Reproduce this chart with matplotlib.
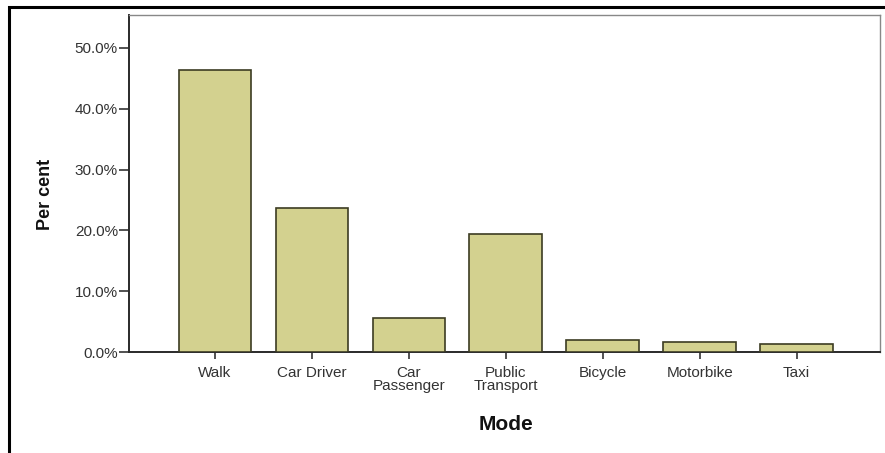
import matplotlib
matplotlib.use("Agg")
import matplotlib.pyplot as plt
from matplotlib.patches import Rectangle
from matplotlib.ticker import FuncFormatter

modes = ["Walk", "Car Driver", "Car\nPassenger", "Public\nTransport", "Bicycle", "Motorbike", "Taxi"]
percent = [46.4, 23.7, 5.6, 19.4, 2.0, 1.6, 1.3]
yticks = [0, 10, 20, 30, 40, 50]

plt.rcParams['font.family'] = ['Liberation Sans', 'DejaVu Sans']

W, H = 885, 453
fig = plt.figure(figsize=(W / 100, H / 100), dpi=100)
fig.patch.set_facecolor("white")

# outer frame (only left and top visible)
frame = Rectangle((9 / W, -0.2), 1.2, 1 - 7 / H + 0.2, transform=fig.transFigure,
                  fill=False, edgecolor="black", linewidth=2.2, clip_on=False)
fig.add_artist(frame)

ax = fig.add_axes([129 / W, 1 - 352 / H, (880 - 129) / W, (352 - 15) / H])
x = list(range(len(modes)))
ax.bar(x, percent, width=0.75, color="#d3d18f", edgecolor="#3c3c22", linewidth=1.2, zorder=3)

ax.set_xlim(-0.887, 6.86)
ax.set_ylim(0, 55.4)
ax.set_yticks(yticks)
ax.yaxis.set_major_formatter(FuncFormatter(lambda v, p: f"{v:.1f}%"))
ax.set_xticks(x)
ax.set_xticklabels(modes, linespacing=0.95)

ax.tick_params(axis="y", direction="out", length=7, width=1.2, pad=1,
               labelsize=11, labelcolor="#333333", color="#333333")
ax.tick_params(axis="x", direction="out", length=5, width=1.2, pad=5,
               labelsize=11, labelcolor="#333333", color="#333333")

for s in ["left", "bottom"]:
    ax.spines[s].set_color("#2a2a2a")
    ax.spines[s].set_linewidth(1.4)
for s in ["top", "right"]:
    ax.spines[s].set_color("#888888")
    ax.spines[s].set_linewidth(1.0)

fig.text(45 / W, 1 - 194 / H, "Per cent", rotation=90, ha="center", va="center",
         fontsize=13, fontweight="bold", color="#111111")
fig.text(506 / W, 1 - 424 / H, "Mode", ha="center", va="center",
         fontsize=15, fontweight="bold", color="#111111")

fig.savefig("out.png", dpi=100)
